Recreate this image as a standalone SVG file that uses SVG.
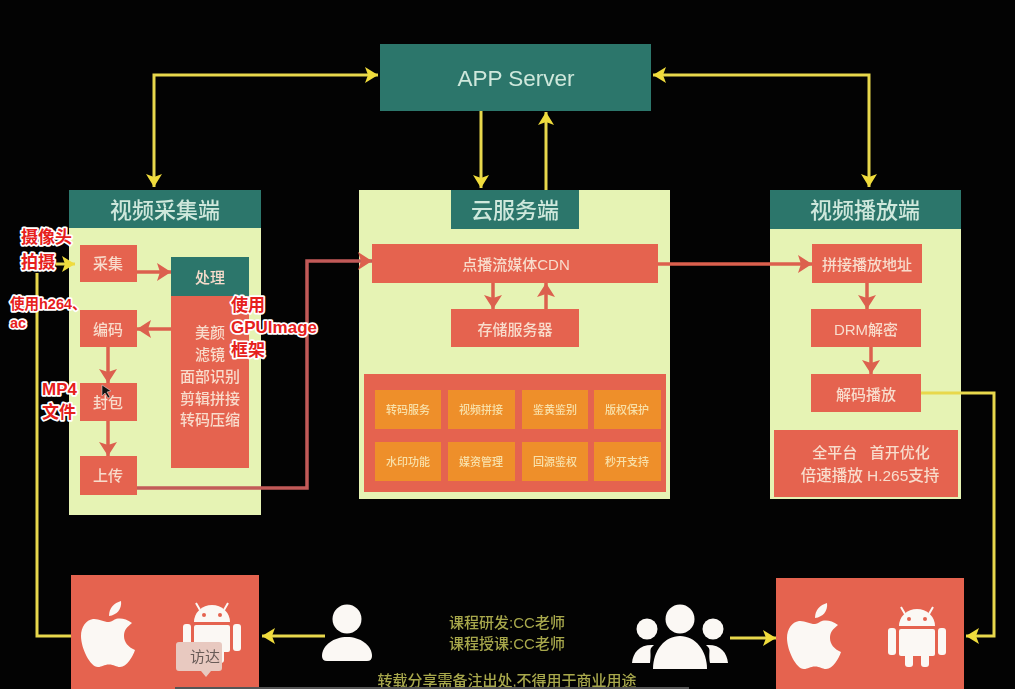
<svg xmlns="http://www.w3.org/2000/svg" xmlns:xlink="http://www.w3.org/1999/xlink" width="1015" height="689" viewBox="0 0 1015 689">
<style>
text{font-family:"Liberation Sans","Noto Sans CJK SC",sans-serif;text-anchor:middle;dominant-baseline:central}
.panel{fill:#e6f3b4}
.teal{fill:#2c766b}
.red{fill:#e5634f}
.chip{fill:#ee8f2a}
.head{fill:#cfe8dc;font-size:22px;font-weight:500}
.lbl{fill:#f8dccc;font-size:15px;font-weight:500}
.chipt{fill:#f8e0a8;font-size:11px;font-weight:500}
.foot{fill:#a8a84c;font-size:15px;font-weight:500}
.note{fill:#e6201c;font-size:17px;font-weight:bold;text-anchor:start;stroke:#fff;stroke-width:3.500px;paint-order:stroke;stroke-linejoin:round}
.soft text{filter:url(#soft)}
.y{fill:none;stroke:#e8d84c;stroke-width:3}
.r{fill:none;stroke:#dc604e;stroke-width:3.500}
.w{fill:#fbf8f4}
</style>
<defs>
<filter id="soft" x="-10%" y="-30%" width="120%" height="160%"><feGaussianBlur stdDeviation="0.45"/></filter>
<marker id="ay" markerUnits="userSpaceOnUse" markerWidth="14" markerHeight="16" refX="13" refY="8" orient="auto-start-reverse"><path d="M0 0L13 8L0 16L3 8Z" fill="#f0dc3c"/></marker>
<marker id="ar" markerUnits="userSpaceOnUse" markerWidth="15" markerHeight="18" refX="14" refY="9" orient="auto-start-reverse"><path d="M0 0L14 9L0 18L3 9Z" fill="#dc604e"/></marker>
<g id="apple"><path class="w" d="M27 21C21 21 17 17.500 11 18C4 19 -1 26 -1 35C-1 47 8 66 16 66C20 66 22 63.500 27 63.500C32 63.500 34 66 38 66C45 66 51 55 53 49C46 46 42 41 42 35C42 29 45 26 50 22C45 18 40 17 36 17.500C32 18 30 21 27 21Z"/><path class="w" d="M27 15C27 7 32 2 39 0C40 8 35 14 27 15Z"/></g>
<g id="android">
<path class="w" d="M11 19A18 17 0 0 1 47 19Z"/>
<path d="M17 7L13 0M41 7L45 0" stroke="#fbf8f4" stroke-width="2" fill="none"/>
<circle cx="21" cy="12" r="2" fill="#e5634f"/><circle cx="37" cy="12" r="2" fill="#e5634f"/>
<rect class="w" x="11" y="22" width="36" height="27" rx="2"/>
<rect class="w" x="0" y="21" width="8" height="27" rx="3"/><rect class="w" x="50" y="21" width="8" height="27" rx="3"/>
<rect class="w" x="17" y="45" width="8" height="15" rx="3"/><rect class="w" x="33" y="45" width="8" height="15" rx="3"/>
</g>
</defs>
<rect width="1015" height="689" fill="#030303"/>
<g class="soft">
<g id="app-server"><rect class="teal" x="380" y="44" width="271" height="67"/><text x="516" y="78" fill="#cfe8dc" style="font-size:22.500px;font-weight:500">APP Server</text></g>

<g id="capture-panel"><rect class="panel" x="69" y="190" width="192" height="325"/><rect class="teal" x="69" y="190" width="192" height="38"/><text class="head" x="165" y="210">视频采集端</text></g>
<g id="cloud-panel"><rect class="panel" x="359" y="190" width="311" height="309"/><rect class="teal" x="451" y="190" width="128" height="39"/><text class="head" x="515" y="210">云服务端</text></g>
<g id="player-panel"><rect class="panel" x="770" y="190" width="191" height="309"/><rect class="teal" x="770" y="190" width="191" height="39"/><text class="head" x="865" y="210">视频播放端</text></g>

<g id="connectors">
<path class="y" d="M154 187V75H378" marker-start="url(#ay)" marker-end="url(#ay)"/>
<path class="y" d="M869 187V75H653" marker-start="url(#ay)" marker-end="url(#ay)"/>
<path class="y" d="M481 111V188" marker-end="url(#ay)"/>
<path class="y" d="M546 190V112" marker-end="url(#ay)"/>
<path class="y" d="M56 264H75" marker-end="url(#ay)"/>
<path class="y" d="M71 636H37V273" />
<path class="y" d="M325 636H262" marker-end="url(#ay)"/>
<path class="y" d="M730 638H776" marker-end="url(#ay)"/>
<path class="y" d="M921 393H994V636H966" marker-end="url(#ay)"/>
<path class="r" d="M137 272H171" marker-end="url(#ar)"/>
<path class="r" d="M171 329H137" marker-end="url(#ar)"/>
<path class="r" d="M108 347V383" marker-end="url(#ar)"/>
<path class="r" d="M108 421V456" marker-end="url(#ar)"/>
<path class="r" d="M137 488H307V261H372" marker-end="url(#ar)" style="stroke:#c25a58"/>
<path class="r" d="M493 283V309" marker-end="url(#ar)"/>
<path class="r" d="M546 309V283" marker-end="url(#ar)"/>
<path class="r" d="M658 264H812" marker-end="url(#ar)"/>
<path class="r" d="M867 283V309" marker-end="url(#ar)"/>
<path class="r" d="M871 347V374" marker-end="url(#ar)"/>
</g>

<g id="collect"><rect class="red" x="80" y="245" width="57" height="37"/><text class="lbl" x="108" y="263">采集</text></g>
<g id="encode"><rect class="red" x="80" y="310" width="57" height="37"/><text class="lbl" x="108" y="329">编码</text></g>
<g id="package"><rect class="red" x="80" y="383" width="57" height="38"/><text class="lbl" x="108" y="402">封包</text></g>
<g id="upload"><rect class="red" x="80" y="456" width="57" height="39"/><text class="lbl" x="108" y="475">上传</text></g>
<g id="process"><rect class="red" x="171" y="296" width="78" height="172"/><rect class="teal" x="171" y="257" width="78" height="39"/><text class="lbl" x="210" y="277">处理</text>
<text class="lbl" x="210" y="332">美颜</text><text class="lbl" x="210" y="354">滤镜</text><text class="lbl" x="210" y="376">面部识别</text><text class="lbl" x="210" y="398">剪辑拼接</text><text class="lbl" x="210" y="419">转码压缩</text></g>

<g id="cdn"><rect class="red" x="372" y="244" width="286" height="39"/><text class="lbl" x="516" y="264">点播流媒体CDN</text></g>
<g id="storage"><rect class="red" x="451" y="309" width="128" height="38"/><text class="lbl" x="515" y="329">存储服务器</text></g>
<g id="services"><rect class="red" x="364" y="374" width="302" height="118"/>
<rect class="chip" x="375" y="390" width="66" height="39"/><text class="chipt" x="408" y="410">转码服务</text>
<rect class="chip" x="448" y="390" width="67" height="39"/><text class="chipt" x="481" y="410">视频拼接</text>
<rect class="chip" x="522" y="390" width="66" height="39"/><text class="chipt" x="555" y="410">鉴黄鉴别</text>
<rect class="chip" x="594" y="390" width="67" height="39"/><text class="chipt" x="627" y="410">版权保护</text>
<rect class="chip" x="375" y="442" width="66" height="39"/><text class="chipt" x="408" y="462">水印功能</text>
<rect class="chip" x="448" y="442" width="67" height="39"/><text class="chipt" x="481" y="462">媒资管理</text>
<rect class="chip" x="522" y="442" width="66" height="39"/><text class="chipt" x="555" y="462">回源鉴权</text>
<rect class="chip" x="594" y="442" width="67" height="39"/><text class="chipt" x="627" y="462">秒开支持</text></g>

<g id="join-url"><rect class="red" x="812" y="244" width="110" height="39"/><text class="lbl" x="867" y="264">拼接播放地址</text></g>
<g id="drm"><rect class="red" x="811" y="309" width="110" height="38"/><text class="lbl" x="866" y="329">DRM解密</text></g>
<g id="decode"><rect class="red" x="811" y="374" width="110" height="38"/><text class="lbl" x="866" y="394">解码播放</text></g>
<g id="features"><rect class="red" x="774" y="430" width="184" height="67"/><text class="lbl" x="871" y="452" xml:space="preserve">全平台   首开优化</text><text class="lbl" x="870" y="475" style="font-size:15.500px">倍速播放 H.265支持</text></g>

<g id="publisher-device"><rect class="red" x="71" y="575" width="188" height="114"/><use href="#apple" x="82" y="601"/><use href="#android" x="183" y="603"/>
<path d="M179 642H219Q222 642 222 645V668Q222 671 219 671H211L206 677L201 671H179Q176 671 176 668V645Q176 642 179 642Z" fill="#e8c9c0"/><text x="205" y="656" fill="#6a5c58" style="font-size:15px">访达</text></g>
<g id="viewer-device"><rect class="red" x="776" y="578" width="188" height="111"/><use href="#apple" x="788" y="603"/><use href="#android" x="888" y="607"/></g>
<g id="publisher"><circle class="w" cx="347" cy="619" r="14.500"/><path class="w" d="M322 656C322 645 334 637 347 637C360 637 372 645 372 656Q372 661 367 661H327Q322 661 322 656Z"/></g>
<g id="viewers"><circle class="w" cx="680" cy="619" r="14.500"/><circle class="w" cx="647" cy="629" r="10.500"/><circle class="w" cx="713" cy="629" r="10.500"/>
<path class="w" d="M653 669C653 650 665 636 680 636C695 636 707 650 707 669Z"/>
<path class="w" d="M632 663C633 652 640 644 654 645C648 650 652 650 650 663Z"/><path class="w" d="M728 663C727 652 720 644 706 645C712 650 708 650 710 663Z"/></g>

<text class="foot" x="507" y="622">课程研发:CC老师</text>
<text class="foot" x="507" y="643">课程授课:CC老师</text>
<text class="foot" x="507" y="680">转载分享需备注出处,不得用于商业用途</text>
</g>
<rect x="175" y="687" width="514" height="2" fill="#555"/>
<path d="M102 385L102 396L105 393L108 398L110 397L107 392L111 391Z" fill="#111" stroke="#eee" stroke-width=".5"/>
<g id="annotations">
<text class="note" x="21" y="237">摄像头</text><text class="note" x="21" y="262">拍摄</text>
<text class="note" x="10" y="304" style="font-size:14.500px">使用h264、</text><text class="note" x="10" y="323" style="font-size:14.500px">ac</text>
<text class="note" x="231" y="305">使用</text><text class="note" x="231" y="327">GPUImage</text><text class="note" x="231" y="350">框架</text>
<text class="note" x="42" y="389">MP4</text><text class="note" x="42" y="412">文件</text>
</g>
</svg>
